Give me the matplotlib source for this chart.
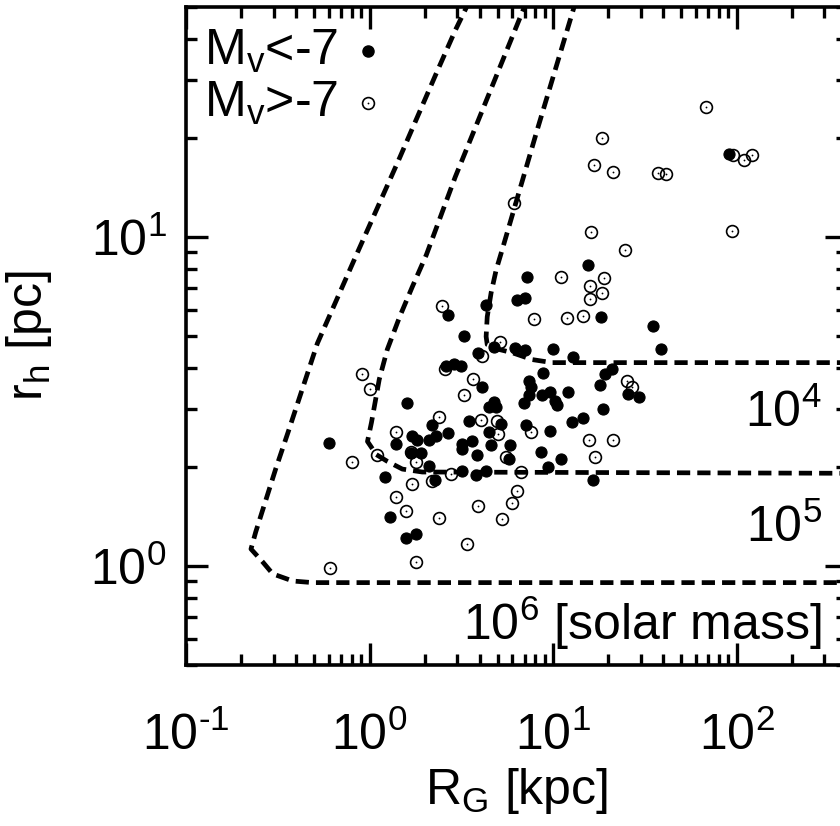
import matplotlib
matplotlib.use("Agg")
import matplotlib.pyplot as plt
from matplotlib.lines import Line2D
from matplotlib.ticker import LogLocator, NullFormatter, FuncFormatter
import math

plt.rcParams['font.family'] = ['Liberation Sans', 'DejaVu Sans']
plt.rcParams['mathtext.fontset'] = 'custom'
plt.rcParams['mathtext.rm'] = 'Liberation Sans'
plt.rcParams['mathtext.it'] = 'Liberation Sans'
plt.rcParams['mathtext.default'] = 'regular'
plt.rcParams['axes.unicode_minus'] = False

# ---- data: globular clusters (galactocentric distance [kpc], half-light radius [pc])
R_bright = [90.5, 15.5, 18.2, 34.9, 38.6, 10.0, 12.8, 8.82, 20.9, 19.2, 18.0, 25.6, 29.3,
            9.63, 8.71, 12.1, 10.3, 10.5, 18.7, 14.6, 12.7, 9.63, 11.05, 8.61, 9.39, 16.5,
            7.22, 4.32, 6.37, 7.04, 2.69, 3.28, 4.78, 6.22, 7.04, 3.91, 2.62, 2.90, 3.16,
            4.11, 7.41, 7.60, 7.41, 6.96, 1.61, 4.78, 4.49, 4.90, 2.20, 3.50, 5.22, 7.13,
            1.71, 1.82, 2.12, 2.31, 2.69, 4.49, 0.599, 1.40, 3.20, 3.63, 4.60, 5.84, 3.20,
            1.69, 1.92, 2.12, 3.86, 5.77, 1.21, 2.28, 3.20, 3.82, 4.32, 1.30, 1.80, 1.59]
rh_bright = [17.9, 8.23, 5.72, 5.37, 4.58, 4.58, 4.33, 3.87, 3.98, 3.82, 3.56, 3.34, 3.27,
             3.39, 3.32, 3.37, 3.18, 3.08, 2.99, 2.81, 2.73, 2.58, 2.11, 2.22, 2.00, 1.82,
             7.56, 6.22, 6.44, 6.53, 5.80, 5.01, 4.64, 4.61, 4.54, 4.45, 4.04, 4.12, 4.06,
             3.49, 3.64, 3.49, 3.32, 3.12, 3.12, 3.16, 3.05, 3.05, 2.69, 2.75, 2.71, 2.68,
             2.48, 2.41, 2.41, 2.48, 2.53, 2.55, 2.36, 2.34, 2.34, 2.39, 2.33, 2.33, 2.26,
             2.20, 2.20, 2.01, 2.17, 2.11, 1.87, 1.83, 1.94, 1.89, 1.94, 1.41, 1.25, 1.22]

R_faint = [18.5, 16.7, 21.2, 37.2, 41.1, 67.9, 95.1, 110.5, 120.7, 16.1, 24.6, 94.0, 6.14,
           11.05, 18.9, 15.9, 18.5, 15.9, 11.9, 14.6, 25.2, 26.9, 15.7, 21.2, 16.9, 2.49,
           7.88, 5.15, 4.11, 2.59, 0.905, 1.00, 3.67, 3.28, 2.40, 4.06, 4.96, 7.60, 1.40,
           5.02, 1.105, 0.798, 1.69, 1.80, 5.55, 1.71, 2.20, 2.79, 6.70, 6.37, 1.40, 5.98,
           1.59, 2.40, 3.91, 5.28, 3.41, 1.80, 0.606]
rh_faint = [19.95, 16.6, 15.8, 15.6, 15.5, 24.8, 17.7, 17.1, 17.7, 10.36, 9.14, 10.43, 12.68,
            7.56, 7.51, 7.11, 6.77, 6.49, 5.68, 5.76, 3.64, 3.49, 2.41, 2.41, 2.14, 6.18,
            5.64, 4.81, 4.36, 3.98, 3.84, 3.46, 3.69, 3.30, 2.83, 2.77, 2.75, 2.56, 2.55,
            2.51, 2.18, 2.07, 2.22, 2.07, 2.14, 1.78, 1.81, 1.91, 1.93, 1.69, 1.62, 1.55,
            1.47, 1.40, 1.52, 1.39, 1.166, 1.028, 0.986]

# ---- constant-mass boundary curves
R_m6 = [3.5, 3.37, 2.93, 2.31, 1.44, 0.839, 0.52, 0.36, 0.308, 0.24, 0.226, 0.262, 0.297, 0.382, 0.49, 1000]
r_m6 = [53, 49.8, 42.4, 31.4, 17.1, 8.7, 4.75, 2.55, 1.97, 1.27, 1.126, 1.028, 0.946, 0.90, 0.89, 0.89]
R_m5 = [7.2, 6.96, 2.93, 2.04, 1.71, 1.46, 1.25, 1.13, 1.025, 0.975, 1.09, 1.25, 1.51, 1.94, 1000]
r_m5 = [53, 49.8, 15.2, 8.82, 7.05, 5.72, 4.55, 3.69, 2.73, 2.39, 2.18, 2.08, 1.97, 1.93, 1.91]
R_m4 = [13.5, 13.0, 8.19, 5.28, 4.90, 4.60, 4.38, 4.32, 4.38, 5.09, 5.98, 7.69, 9.88, 1000]
r_m4 = [53, 49.8, 21.1, 9.13, 7.94, 6.77, 5.72, 4.98, 4.71, 4.55, 4.45, 4.24, 4.15, 4.15]

curve_labels = [r'10$^{4}$', r'10$^{5}$', r'10$^{6}$ [solar mass]']
legend_labels = [r'M$_{v}$<-7', r'M$_{v}$>-7']

W, H = 840, 826
fig = plt.figure(figsize=(W / 100, H / 100), dpi=100)
ax = fig.add_axes([186 / W, (H - 665) / H, 661 / W, 658 / H])
ax.set_xscale('log')
ax.set_yscale('log')
ax.set_xlim(0.1, 400)
ax.set_ylim(0.5, 50)

dash = (0, (2.8, 1.5))
for Rc, rc in [(R_m6, r_m6), (R_m5, r_m5), (R_m4, r_m4)]:
    ax.plot(Rc, rc, color='black', lw=3.4, ls=dash, zorder=2)

ax.plot(R_bright, rh_bright, ls='none', marker='o', ms=8, mfc='black', mec='black', mew=0.8, zorder=3)
ax.plot(R_faint, rh_faint, ls='none', marker='o', ms=8.5, mfc='none', mec='black', mew=1.2, zorder=4)
ax.plot(R_faint, rh_faint, ls='none', marker='o', ms=1.3, mfc='black', mec='black', mew=0, zorder=4)

fs = 36
ax.text(0.962, 0.362, curve_labels[0], transform=ax.transAxes, ha='right', va='baseline', fontsize=fs)
ax.text(0.962, 0.187, curve_labels[1], transform=ax.transAxes, ha='right', va='baseline', fontsize=fs)
ax.text(0.962, 0.038, curve_labels[2], transform=ax.transAxes, ha='right', va='baseline', fontsize=fs)

h1 = Line2D([], [], ls='none', marker='o', ms=8, mfc='black', mec='black')
h2a = Line2D([], [], ls='none', marker='o', ms=8.5, mfc='none', mec='black', mew=1.2)
h2b = Line2D([], [], ls='none', marker='o', ms=1.3, mfc='black', mec='black', mew=0)
leg = ax.legend([h1, (h2a, h2b)], legend_labels, loc='upper left', bbox_to_anchor=(0.0, 0.995),
                frameon=False, markerfirst=False, fontsize=fs, borderpad=0, borderaxespad=0.35,
                handlelength=1.0, handleheight=0.2, handletextpad=0.11, labelspacing=0.1)

ax.set_xlabel(r'R$_{G}$ [kpc]', fontsize=fs, labelpad=4)
ax.set_ylabel(r'r$_{h}$ [pc]', fontsize=fs, labelpad=26)


def sci(v, pos):
    e = int(round(math.log10(v)))
    s = r'\text{-}%d' % (-e) if e < 0 else '%d' % e
    return r'$10^{%s}$' % s


ax.xaxis.set_major_locator(LogLocator(base=10, numticks=10))
ax.xaxis.set_minor_locator(LogLocator(base=10, subs=range(2, 10), numticks=10))
ax.xaxis.set_major_formatter(FuncFormatter(sci))
ax.xaxis.set_minor_formatter(NullFormatter())
ax.yaxis.set_major_locator(LogLocator(base=10, numticks=10))
ax.yaxis.set_minor_locator(LogLocator(base=10, subs=range(2, 10), numticks=10))
ax.yaxis.set_major_formatter(FuncFormatter(sci))
ax.yaxis.set_minor_formatter(NullFormatter())

ax.tick_params(which='both', direction='in', top=True, right=True, width=2.4, labelsize=fs)
ax.tick_params(which='major', length=16)
ax.tick_params(which='minor', length=8)
ax.tick_params(axis='x', which='major', pad=34)
ax.tick_params(axis='y', which='major', pad=14)
for s in ax.spines.values():
    s.set_linewidth(2.6)

fig.savefig('out.png', dpi=100)
